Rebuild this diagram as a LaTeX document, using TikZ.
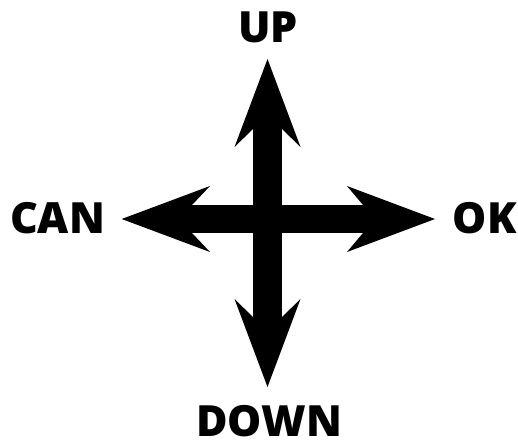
\documentclass[tikz,border=0pt]{standalone}
\usepackage{fontspec}
\setmainfont{Open Sans}[UprightFont=* Bold]
\begin{document}
\begin{tikzpicture}[x=1pt,y=-1pt,
  lbl/.style={anchor=base,inner sep=0pt,font=\fontsize{43}{43}\selectfont\bfseries},
  arr/.style={fill=black}]
\useasboundingbox (0,0) rectangle (518,444);
% shafts
\fill[arr] (253,128) rectangle (282,318);
\fill[arr] (192,205) rectangle (363,233);
% up head
\fill[arr] (267.5,59) -- (300.5,147) -- (282,129) -- (253,129) -- (234.5,147) -- cycle;
% down head
\fill[arr] (267.5,387) -- (300.5,299) -- (282,317) -- (253,317) -- (234.5,299) -- cycle;
% left head
\fill[arr] (121.7,219) -- (210,186) -- (192,205) -- (192,233) -- (210,252) -- cycle;
% right head
\fill[arr] (435,219) -- (347,186) -- (363,205) -- (363,233) -- (347,252) -- cycle;
% labels
\node[lbl] (up) at (268,42.5) {UP};
\node[lbl] (down) at (269,436) {DOWN};
\node[lbl] (can) at (57.5,233) {CAN};
\node[lbl] (ok) at (484.7,233) {OK};
\end{tikzpicture}
\end{document}
